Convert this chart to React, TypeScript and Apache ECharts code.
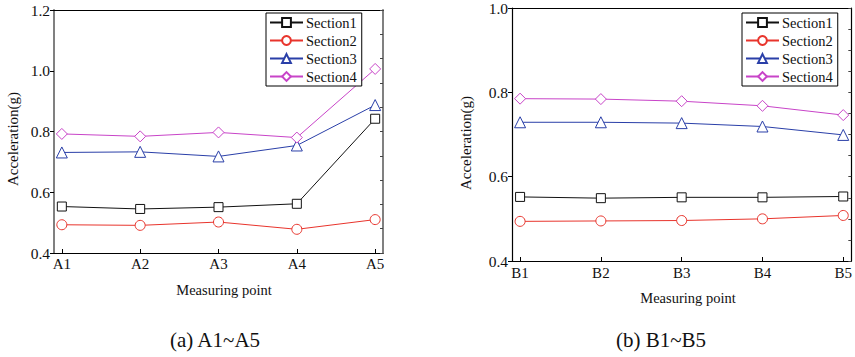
import React, { useEffect, useRef } from "react";
import * as echarts from "echarts";

const catsA = ["A1", "A2", "A3", "A4", "A5"];
const catsB = ["B1", "B2", "B3", "B4", "B5"];
const seriesNames = ["Section1", "Section2", "Section3", "Section4"];

const a1 = [0.553, 0.545, 0.551, 0.562, 0.842];
const a2 = [0.493, 0.491, 0.502, 0.478, 0.51];
const a3 = [0.731, 0.733, 0.718, 0.754, 0.887];
const a4 = [0.792, 0.784, 0.797, 0.78, 1.006];

const b1 = [0.552, 0.549, 0.551, 0.551, 0.553];
const b2 = [0.494, 0.495, 0.496, 0.5, 0.508];
const b3 = [0.729, 0.729, 0.727, 0.719, 0.699];
const b4 = [0.785, 0.784, 0.779, 0.768, 0.746];

const colors = ["#111111", "#e8342c", "#2a3fa8", "#c844c8"];
const symbols = ["rect", "circle", "triangle", "diamond"];
const symbolSizes = [9, 10, 11, 11];

const FONT = "'Liberation Serif', 'Times New Roman', serif";

export default function App() {
  const ref = useRef<HTMLDivElement>(null);
  useEffect(() => {
    if (!ref.current) return;
    const chart = echarts.init(ref.current, undefined, { renderer: "svg" });
    const pos = [1, 2, 3, 4, 5];
    const mk = (vals: number[]) => vals.map((v, i) => [pos[i], v]);
    const dataA = [a1, a2, a3, a4];
    const dataB = [b1, b2, b3, b4];

    const series: any[] = [];
    [dataA, dataB].forEach((set, gi) => {
      set.forEach((vals, si) => {
        series.push({
          name: seriesNames[si],
          type: "line",
          xAxisIndex: gi * 2,
          yAxisIndex: gi * 2,
          data: mk(vals),
          symbol: symbols[si],
          symbolSize: symbolSizes[si],
          showAllSymbol: true,
          lineStyle: { color: colors[si], width: 1 },
          itemStyle: { color: "#ffffff", borderColor: colors[si], borderWidth: 1 },
          emphasis: { disabled: true },
        });
      });
    });

    const xBottom = (grid: number, cats: string[], margin: number, lineColor: string) => ({
      type: "value",
      gridIndex: grid,
      position: "bottom",
      min: 0.9,
      max: 5.1,
      axisLine: { show: true, onZero: false, lineStyle: { color: lineColor, width: 1.2 } },
      axisTick: { show: true, inside: true, length: 4, customValues: pos, lineStyle: { color: "#000" } },
      axisLabel: {
        customValues: pos,
        formatter: (v: number) => cats[Math.round(v) - 1] ?? "",
        fontFamily: FONT,
        fontSize: 15,
        color: "#111",
        margin,
      },
      splitLine: { show: false },
    });
    const xTop = (grid: number) => ({
      type: "value",
      gridIndex: grid,
      position: "top",
      min: 0.9,
      max: 5.1,
      axisLine: { show: true, onZero: false, lineStyle: { color: "#000", width: 1.2 } },
      axisTick: { show: false },
      axisLabel: { show: false },
      splitLine: { show: false },
    });
    const yLeft = (grid: number, max: number, lineColor: string, lw: number) => ({
      type: "value",
      gridIndex: grid,
      position: "left",
      min: 0.4,
      max,
      interval: 0.2,
      axisLine: { show: true, onZero: false, lineStyle: { color: lineColor, width: lw } },
      axisTick: { show: true, inside: false, length: 4, lineStyle: { color: "#000" } },
      axisLabel: {
        formatter: (v: number) => v.toFixed(1),
        fontFamily: FONT,
        fontSize: 15.5,
        color: "#111",
        margin: 4,
      },
      splitLine: { show: false },
    });
    const yRight = (grid: number, max: number, interval: number, lineColor: string, lw: number) => ({
      type: "value",
      gridIndex: grid,
      position: "right",
      min: 0.4,
      max,
      interval,
      axisLine: { show: true, onZero: false, lineStyle: { color: lineColor, width: lw } },
      axisTick: { show: true, inside: true, length: 3, lineStyle: { color: "#444" } },
      axisLabel: { show: false },
      splitLine: { show: false },
    });

    const legend = (left: number) => ({
      data: seriesNames,
      left,
      top: 13,
      orient: "vertical",
      itemWidth: 33,
      itemHeight: 11,
      itemGap: 3,
      padding: [2, 5, 2, 3],
      borderColor: "#000",
      borderWidth: 1,
      backgroundColor: "#fff",
      textStyle: { fontFamily: FONT, fontSize: 14.5, color: "#111", padding: [0, 0, 0, -2] },
      selectedMode: false,
    });

    const txt = (x: number, y: number, s: string, size: number, rot = 0) => ({
      type: "text",
      x,
      y,
      rotation: rot,
      style: {
        text: s,
        fontFamily: FONT,
        fontSize: size,
        fill: "#111",
        align: "center",
        verticalAlign: "middle",
      },
    });

    chart.setOption({
      animation: false,
      backgroundColor: "#fff",
      grid: [
        { left: 54, top: 10, width: 329, height: 243, containLabel: false },
        { left: 512, top: 8, width: 342, height: 253, containLabel: false },
      ],
      xAxis: [
        xBottom(0, catsA, 3, "#000"),
        xTop(0),
        xBottom(1, catsB, 4, "#000"),
        xTop(1),
      ],
      yAxis: [
        yLeft(0, 1.2, "#808080", 2),
        yRight(0, 1.2, 0.08, "#808080", 2),
        yLeft(1, 1.0, "#000", 1.2),
        yRight(1, 1.0, 0.05, "#000", 1.2),
      ],
      legend: [legend(266), legend(742)],
      series,
      graphic: [
        txt(13, 139, "Acceleration(g)", 15, Math.PI / 2),
        txt(466, 143, "Acceleration(g)", 15, Math.PI / 2),
        txt(224, 290, "Measuring point", 14.5),
        txt(688, 298, "Measuring point", 14.5),
        txt(215, 340, "(a) A1~A5", 21),
        txt(661, 340, "(b) B1~B5", 21),
      ],
    });
    return () => chart.dispose();
  }, []);
  return (
    <div
      ref={ref}
      style={{ position: "absolute", left: 0, top: 0, width: 855, height: 357, background: "#fff" }}
    />
  );
}
